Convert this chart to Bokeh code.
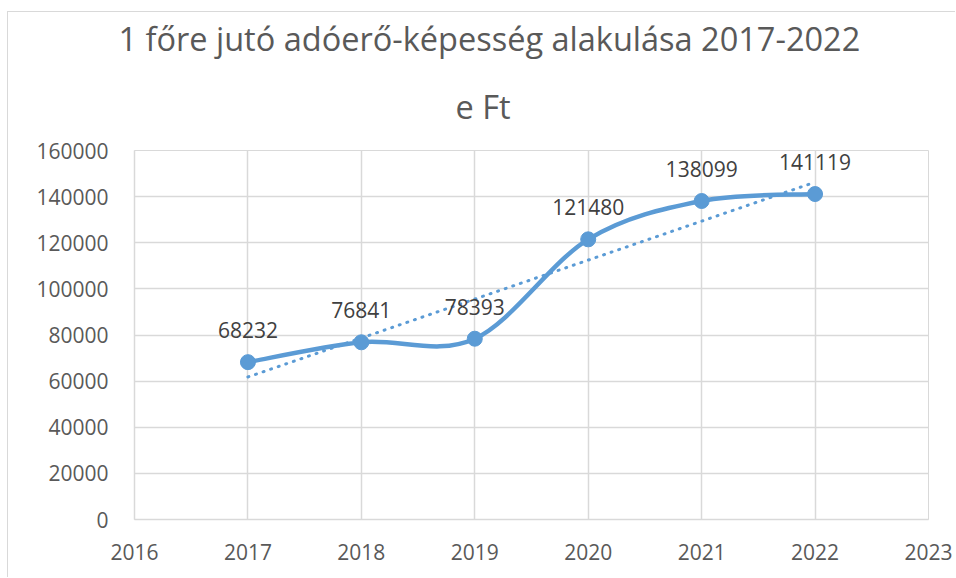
import numpy as np
from bokeh.plotting import figure
from bokeh.models import Range1d, FixedTicker, ColumnDataSource, Title, NumeralTickFormatter
from bokeh.core.properties import value
from bokeh.embed import file_html
from bokeh.resources import INLINE

years = [2017, 2018, 2019, 2020, 2021, 2022]
values = [68232, 76841, 78393, 121480, 138099, 141119]
x_ticks = [2016, 2017, 2018, 2019, 2020, 2021, 2022, 2023]
y_ticks = [0, 20000, 40000, 60000, 80000, 100000, 120000, 140000, 160000]
title_lines = ["1 főre jutó adóerő-képesség alakulása 2017-2022", "e Ft"]

BLUE = "#5B9BD5"
GRID = "#D9D9D9"
FONT = "Open Sans"

p = figure(width=948, height=566, output_backend="svg", toolbar_location=None,
           x_range=Range1d(x_ticks[0], x_ticks[-1]), y_range=Range1d(y_ticks[0], y_ticks[-1]),
           min_border_left=126, min_border_right=28, min_border_top=138, min_border_bottom=59)

def style_title(t):
    t.align = "left"
    t.text_font = FONT
    t.text_font_size = "32.5px"
    t.text_font_style = "normal"
    t.text_color = "#595959"

p.title.text = title_lines[0]
style_title(p.title)
p.title.offset = -16
p.title.standoff = 0
t2 = Title(text=title_lines[1])
style_title(t2)
t2.offset = 321
t2.standoff = 43
p.add_layout(t2, "above")

p.outline_line_color = GRID
p.xgrid.grid_line_color = GRID
p.ygrid.grid_line_color = GRID
p.xgrid.grid_line_width = 1.5
p.ygrid.grid_line_width = 1.5
p.xaxis.ticker = FixedTicker(ticks=x_ticks)
p.yaxis.ticker = FixedTicker(ticks=y_ticks)
p.xaxis.formatter = NumeralTickFormatter(format="0")
p.yaxis.formatter = NumeralTickFormatter(format="0")
for ax in (p.xaxis, p.yaxis):
    ax.axis_line_color = GRID
    ax.axis_line_width = 1.5
    ax.major_tick_line_color = None
    ax.minor_tick_line_color = None
    ax.major_label_text_font = FONT
    ax.major_label_text_font_size = "21px"
    ax.major_label_text_color = "#595959"
p.xaxis.major_label_standoff = 18
p.yaxis.major_label_standoff = 20

# linear trendline (least squares over series index, as in Excel)
idx = np.arange(1, len(values) + 1)
slope, intercept = np.polyfit(idx, values, 1)
trend = slope * idx + intercept
p.line(years, trend, line_color=BLUE, line_width=3, line_dash="1 7", line_cap="round")

# smoothed series line (Catmull-Rom style Bezier segments)
xs = np.array(years, dtype=float)
ys = np.array(values, dtype=float)
n = len(xs)
seg = dict(x0=[], y0=[], x1=[], y1=[], cx0=[], cy0=[], cx1=[], cy1=[])
for i in range(n - 1):
    im1 = max(i - 1, 0)
    ip2 = min(i + 2, n - 1)
    seg["x0"].append(xs[i]); seg["y0"].append(ys[i])
    seg["x1"].append(xs[i + 1]); seg["y1"].append(ys[i + 1])
    seg["cx0"].append(xs[i] + (xs[i + 1] - xs[im1]) / 6)
    seg["cy0"].append(ys[i] + (ys[i + 1] - ys[im1]) / 6)
    seg["cx1"].append(xs[i + 1] - (xs[ip2] - xs[i]) / 6)
    seg["cy1"].append(ys[i + 1] - (ys[ip2] - ys[i]) / 6)
p.bezier(x0="x0", y0="y0", x1="x1", y1="y1", cx0="cx0", cy0="cy0", cx1="cx1", cy1="cy1",
         source=ColumnDataSource(seg), line_color=BLUE, line_width=4.5, line_cap="round")

src = ColumnDataSource(dict(x=years, y=values, label=[str(v) for v in values]))
p.scatter("x", "y", source=src, size=15, fill_color=BLUE, line_color=BLUE)
p.text("x", "y", text="label", source=src, text_font=value(FONT), text_font_size="21px",
       text_color="#404040", text_align="center", text_baseline="middle", y_offset=-32)

p.styles = {"margin-left": "7px", "margin-top": "11px",
            "border-left": "1px solid #D9D9D9", "border-top": "1px solid #D9D9D9"}

open("out.html", "w").write(file_html(p, INLINE))
